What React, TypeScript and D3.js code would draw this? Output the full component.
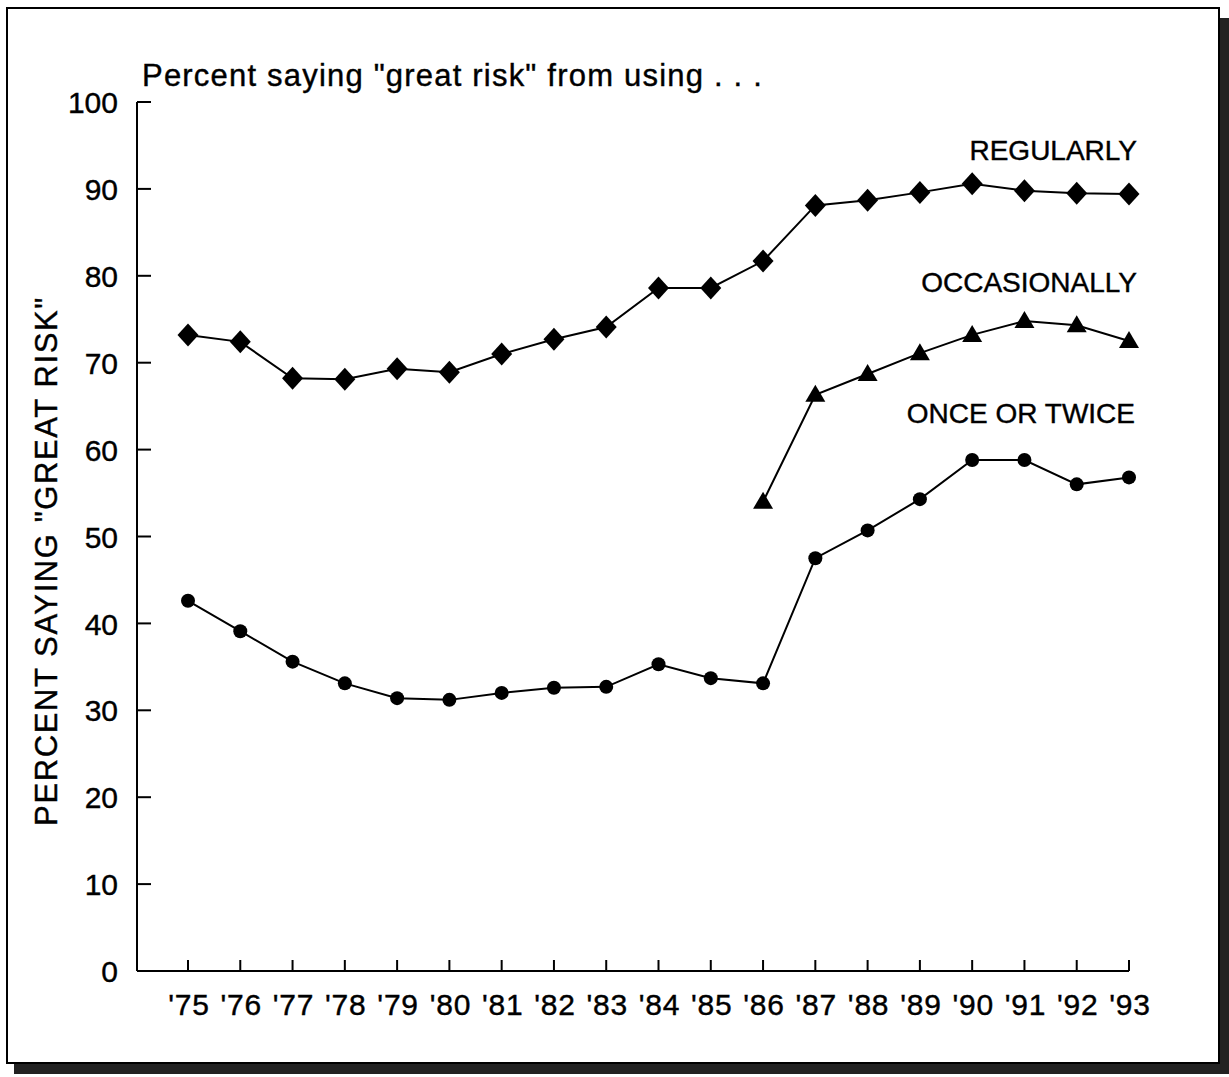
import React from "react";
import * as d3 from "d3";

const years = ["'75","'76","'77","'78","'79","'80","'81","'82","'83","'84","'85","'86","'87","'88","'89","'90","'91","'92","'93"];
const regularly = [73.2, 72.4, 68.2, 68.1, 69.3, 68.9, 71.0, 72.7, 74.1, 78.6, 78.6, 81.7, 88.1, 88.7, 89.6, 90.6, 89.8, 89.5, 89.4];
const occasionally: (number | null)[] = [null, null, null, null, null, null, null, null, null, null, null, 54.0, 66.3, 68.7, 71.1, 73.2, 74.8, 74.3, 72.5];
const onceOrTwice = [42.6, 39.1, 35.6, 33.1, 31.4, 31.2, 32.0, 32.6, 32.7, 35.3, 33.7, 33.1, 47.5, 50.7, 54.3, 58.8, 58.8, 56.0, 56.8];
const yTicks = [0, 10, 20, 30, 40, 50, 60, 70, 80, 90, 100];
const seriesLabels = ["REGULARLY", "OCCASIONALLY", "ONCE OR TWICE"];

const FONT = "Arial, 'Liberation Sans', Helvetica, sans-serif";
const TS = { stroke: "#000", strokeWidth: 0.4 };

export default function App() {
  const W = 1229, H = 1077;
  const x = d3.scaleLinear().domain([0, years.length - 1]).range([188, 1129]);
  const y = d3.scaleLinear().domain([0, 100]).range([971, 102]);
  const line = d3.line<number | null>()
    .defined((d) => d != null)
    .x((_, i) => x(i))
    .y((d) => y(d as number));

  const diamond = (cx: number, cy: number) =>
    `M${cx},${cy - 11.5}L${cx + 10.5},${cy}L${cx},${cy + 11.5}L${cx - 10.5},${cy}Z`;
  const triangle = (cx: number, cy: number) =>
    `M${cx},${cy - 10}L${cx + 10},${cy + 7}L${cx - 10},${cy + 7}Z`;

  return (
    <div style={{ position: "fixed", left: 0, top: 0 }}>
      <svg width={W} height={H} style={{ display: "block", background: "#fff" }}>
        {/* shadow */}
        <rect x={1219} y={18} width={10} height={1056} fill="#222" />
        <rect x={14} y={1063} width={1215} height={11} fill="#222" />
        {/* frame */}
        <rect x={7} y={8} width={1212} height={1055} fill="#fff" stroke="#000" strokeWidth={2} />

        {/* title */}
        <text x={142} y={86} fontFamily={FONT} fontSize={31} letterSpacing={1.2} fill="#000" {...TS}>
          Percent saying "great risk" from using . . .
        </text>

        {/* y axis */}
        <line x1={137} x2={137} y1={y(100)} y2={y(0)} stroke="#000" strokeWidth={2} />
        {yTicks.map((t) => (
          <g key={t}>
            <line x1={137} x2={151} y1={y(t)} y2={y(t)} stroke="#000" strokeWidth={2} />
            <text x={118} y={y(t)} dy="0.37em" textAnchor="end" fontFamily={FONT} fontSize={30} fill="#000" {...TS}>
              {t}
            </text>
          </g>
        ))}
        <text
          transform={`translate(57,561) rotate(-90)`}
          textAnchor="middle"
          fontFamily={FONT}
          fontSize={31}
          letterSpacing={1.6}
          fill="#000"
          {...TS}
        >
          PERCENT SAYING "GREAT RISK"
        </text>

        {/* x axis */}
        <line x1={137} x2={x(years.length - 1)} y1={y(0)} y2={y(0)} stroke="#000" strokeWidth={2} />
        {years.map((yr, i) => (
          <g key={yr}>
            <line x1={x(i)} x2={x(i)} y1={y(0)} y2={y(0) - 11} stroke="#000" strokeWidth={2} />
            <text x={x(i) + 1} y={1015} textAnchor="middle" fontFamily={FONT} fontSize={30} letterSpacing={0.8} fill="#000" {...TS}>
              {yr}
            </text>
          </g>
        ))}

        {/* lines */}
        <path d={line(regularly) || ""} fill="none" stroke="#000" strokeWidth={2} />
        <path d={line(occasionally) || ""} fill="none" stroke="#000" strokeWidth={2} />
        <path d={line(onceOrTwice) || ""} fill="none" stroke="#000" strokeWidth={2} />

        {/* markers */}
        {regularly.map((v, i) => (
          <path key={"r" + i} d={diamond(x(i), y(v))} fill="#000" />
        ))}
        {occasionally.map((v, i) =>
          v == null ? null : <path key={"o" + i} d={triangle(x(i), y(v))} fill="#000" />
        )}
        {onceOrTwice.map((v, i) => (
          <circle key={"c" + i} cx={x(i)} cy={y(v)} r={7} fill="#000" />
        ))}

        {/* series labels */}
        <text x={1137} y={160} textAnchor="end" fontFamily={FONT} fontSize={28} fill="#000" {...TS}>{seriesLabels[0]}</text>
        <text x={1137} y={292} textAnchor="end" fontFamily={FONT} fontSize={28} fill="#000" {...TS}>{seriesLabels[1]}</text>
        <text x={1135} y={423} textAnchor="end" fontFamily={FONT} fontSize={28} fill="#000" {...TS}>{seriesLabels[2]}</text>
      </svg>
    </div>
  );
}
